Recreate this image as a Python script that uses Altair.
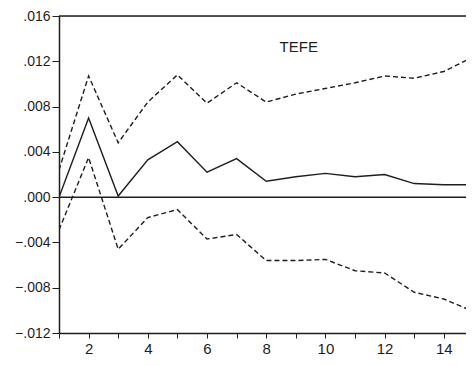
import altair as alt
import pandas as pd

periods = list(range(1, 16))
response = [0.0000, 0.0070, 0.0001, 0.0033, 0.0049, 0.0022, 0.0034, 0.0014,
            0.0018, 0.0021, 0.0018, 0.0020, 0.0012, 0.0011, 0.0011]
upper = [0.0024, 0.0107, 0.0048, 0.0084, 0.0108, 0.0083, 0.0101, 0.0084,
         0.0091, 0.0096, 0.0101, 0.0107, 0.0105, 0.0111, 0.0124]
lower = [-0.0029, 0.0035, -0.0046, -0.0018, -0.0011, -0.0037, -0.0033, -0.0056,
         -0.0056, -0.0055, -0.0065, -0.0067, -0.0084, -0.0090, -0.0101]
y_ticks = [-0.012, -0.008, -0.004, 0.0, 0.004, 0.008, 0.012, 0.016]
x_ticks = list(range(1, 16))
label_text = "TEFE"

df = pd.DataFrame({"t": periods, "resp": response, "up": upper, "lo": lower})

FONT = "Liberation Sans"
INK = "#1e1e1e"

xscale = alt.Scale(domain=[1, 14.75], nice=False, zero=False)
yscale = alt.Scale(domain=[-0.012, 0.016], nice=False, zero=False)

xaxis = alt.Axis(values=x_ticks, title=None, grid=False, labelOverlap=False,
                 labelExpr="datum.value % 2 == 0 ? datum.label : ''",
                 tickSize=5, tickColor=INK, domainColor=INK, domainWidth=1.5,
                 labelFont=FONT, labelFontSize=15, labelColor=INK, labelPadding=3)
yaxis = alt.Axis(values=y_ticks, title=None, grid=False, labelOverlap=False,
                 labelExpr="replace(format(datum.value, '.3f'), '0.', '.')",
                 tickSize=7, tickColor=INK, domainColor=INK, domainWidth=1.5,
                 labelFont=FONT, labelFontSize=14, labelColor=INK, labelPadding=2)

base = alt.Chart(df)

mid = base.mark_line(color=INK, strokeWidth=1.4, clip=True).encode(
    x=alt.X("t:Q", scale=xscale, axis=xaxis),
    y=alt.Y("resp:Q", scale=yscale, axis=yaxis),
)
up = base.mark_line(color=INK, strokeWidth=1.4, strokeDash=[5, 3], clip=True).encode(
    x=alt.X("t:Q", scale=xscale, axis=xaxis), y=alt.Y("up:Q", scale=yscale, axis=yaxis))
lo = base.mark_line(color=INK, strokeWidth=1.4, strokeDash=[5, 3], clip=True).encode(
    x=alt.X("t:Q", scale=xscale, axis=xaxis), y=alt.Y("lo:Q", scale=yscale, axis=yaxis))

zero = alt.Chart(pd.DataFrame({"z": [0.0]})).mark_rule(color=INK, strokeWidth=1.5).encode(
    y=alt.Y("z:Q", scale=yscale, axis=yaxis))
top = alt.Chart(pd.DataFrame({"z": [0.016]})).mark_rule(color=INK, strokeWidth=1.5).encode(
    y=alt.Y("z:Q", scale=yscale, axis=yaxis))

txt = alt.Chart(pd.DataFrame({"t": [9.1], "v": [0.0133], "s": [label_text]})).mark_text(
    font=FONT, fontSize=15, color=INK).encode(
    x=alt.X("t:Q", scale=xscale, axis=xaxis), y=alt.Y("v:Q", scale=yscale, axis=yaxis),
    text="s:N")

chart = alt.layer(up, lo, mid, zero, top, txt).properties(
    width=407, height=317,
    autosize=alt.AutoSizeParams(type="none"),
    padding={"left": 51, "top": 8, "right": 0, "bottom": 25},
).configure_view(stroke=None).configure(background="white")

chart.save("out.html", embed_options={"renderer": "svg", "actions": False})
